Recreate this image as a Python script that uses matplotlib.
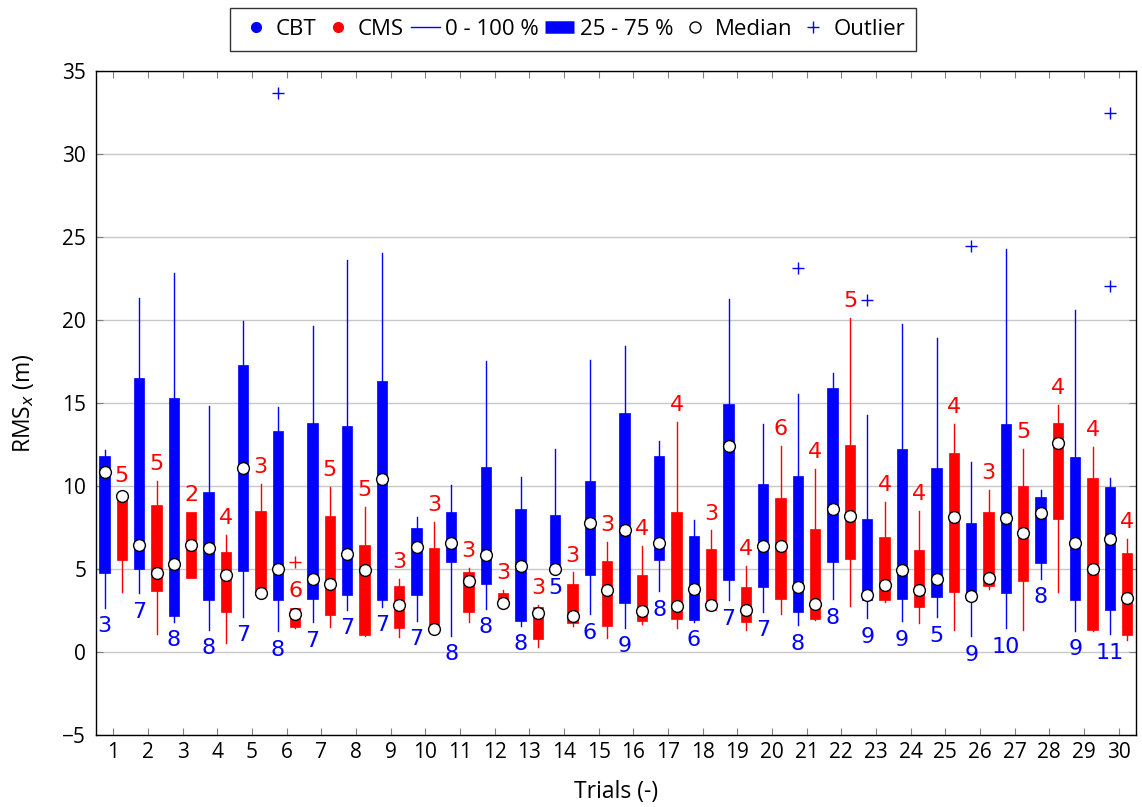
import matplotlib
matplotlib.use("Agg")
import matplotlib.pyplot as plt
from matplotlib.lines import Line2D
import numpy as np

plt.rcParams['font.family'] = ['Open Sans', 'DejaVu Sans']

trials = list(range(1, 31))

# CBT: lower whisker, q1, median, q3, upper whisker, count
cbt_lo = [2.67, 3.54, 1.82, 1.35, 2.10, 1.24, 1.78, 2.53, 2.70, 1.89,
          0.97, 2.58, 1.57, 4.94, 2.27, 1.46, 3.65, 1.82, 3.11, 2.42,
          1.61, 3.18, 2.03, 1.84, 2.08, 0.94, 1.43, 4.40, 1.26, 1.06]
cbt_q1 = [4.74, 5.00, 2.15, 3.15, 4.89, 3.15, 3.22, 3.43, 3.15, 3.45,
          5.39, 4.10, 1.89, 4.95, 4.61, 2.94, 5.54, 1.95, 4.36, 3.93,
          2.38, 5.39, 3.12, 3.19, 3.29, 3.12, 3.53, 5.36, 3.12, 2.51]
cbt_med = [10.85, 6.44, 5.32, 6.29, 11.07, 4.98, 4.40, 5.92, 10.41, 6.35,
           6.59, 5.86, 5.17, 4.97, 7.75, 7.36, 6.57, 3.82, 12.40, 6.39,
           3.93, 8.60, 3.41, 4.93, 4.37, 3.38, 8.04, 8.38, 6.55, 6.79]
cbt_q3 = [11.83, 16.50, 15.30, 9.61, 17.27, 13.33, 13.80, 13.63, 16.31, 7.47,
          8.41, 11.12, 8.63, 8.26, 10.32, 14.40, 11.80, 7.00, 14.94, 10.11,
          10.62, 15.88, 7.99, 12.25, 11.09, 7.78, 13.72, 9.35, 11.74, 9.95]
cbt_hi = [12.17, 21.30, 22.80, 14.83, 19.96, 14.74, 19.66, 23.63, 24.00, 8.15,
          10.04, 17.51, 10.52, 12.23, 17.60, 18.41, 12.73, 7.96, 21.24, 13.73,
          15.51, 16.80, 14.28, 19.78, 18.89, 11.45, 24.30, 9.76, 20.58, 10.48]
cbt_n = [3, 7, 8, 8, 7, 8, 7, 7, 7, 7, 8, 8, 8, 5, 6,
         9, 8, 6, 7, 7, 8, 8, 9, 9, 5, 9, 10, 8, 9, 11]
cbt_out = {6: [33.65], 21: [23.15], 23: [21.18], 26: [24.44], 30: [32.46, 22.05]}

# CMS
cms_lo = [3.60, 1.07, 4.44, 0.56, 3.43, 1.45, 1.52, 0.97, 0.92, 1.24,
          1.82, 2.90, 0.28, 1.57, 0.82, 1.67, 1.46, 2.53, 1.31, 2.27,
          1.95, 2.75, 3.00, 1.74, 1.35, 3.77, 1.35, 3.60, 1.26, 0.70]
cms_q1 = [5.54, 3.65, 4.44, 2.42, 3.45, 1.53, 2.25, 1.00, 1.42, 1.30,
          2.42, 2.92, 0.80, 1.74, 1.57, 1.89, 2.00, 2.53, 1.82, 3.18,
          2.00, 5.60, 3.12, 2.71, 3.60, 3.96, 4.28, 8.02, 1.30, 1.01]
cms_med = [9.40, 4.74, 6.46, 4.64, 3.55, 2.27, 4.08, 4.96, 2.81, 1.39,
           4.25, 2.95, 2.37, 2.17, 3.71, 2.49, 2.79, 2.83, 2.51, 6.39,
           2.90, 8.18, 4.01, 3.72, 8.12, 4.44, 7.17, 12.58, 5.00, 3.24]
cms_q3 = [9.55, 8.86, 8.45, 6.01, 8.48, 2.63, 8.22, 6.46, 3.99, 6.24,
          4.83, 3.53, 2.69, 4.12, 5.47, 4.61, 8.45, 6.18, 3.93, 9.29,
          7.40, 12.47, 6.91, 6.14, 12.00, 8.43, 10.00, 13.82, 10.48, 5.94]
cms_hi = [9.55, 10.32, 8.45, 7.04, 10.13, 2.63, 9.94, 8.76, 4.42, 7.85,
          5.04, 3.73, 2.83, 4.79, 6.65, 6.39, 13.86, 7.32, 5.17, 12.38,
          11.00, 20.09, 9.03, 8.50, 13.74, 9.76, 12.25, 14.90, 12.37, 6.79]
cms_n = [5, 5, 2, 4, 3, 6, 5, 5, 3, 3, 3, 3, 3, 3, 3,
         4, 4, 3, 4, 6, 4, 5, 4, 4, 4, 3, 5, 4, 4, 4]
cms_out = {6: [5.43]}


def make_stats(lo, q1, med, q3, hi, out):
    stats = []
    for i in range(len(lo)):
        stats.append(dict(whislo=lo[i], q1=q1[i], med=med[i], q3=q3[i],
                          whishi=hi[i], mean=med[i],
                          fliers=out.get(i + 1, [])))
    return stats


fig = plt.figure(figsize=(11.42, 8.07), dpi=100)
ax = fig.add_axes([0.084, 0.0892, 0.9107, 0.823])

pos_b = np.array(trials) - 0.25
pos_r = np.array(trials) + 0.25

for stats, pos, col in [(make_stats(cbt_lo, cbt_q1, cbt_med, cbt_q3, cbt_hi, cbt_out), pos_b, 'blue'),
                        (make_stats(cms_lo, cms_q1, cms_med, cms_q3, cms_hi, cms_out), pos_r, 'red')]:
    ax.bxp(stats, positions=pos, widths=0.3, patch_artist=True,
           showcaps=False, showmeans=True, meanline=False,
           boxprops=dict(facecolor=col, edgecolor=col, linewidth=0.5),
           whiskerprops=dict(color=col, linewidth=1),
           medianprops=dict(linewidth=0),
           meanprops=dict(marker='o', markerfacecolor='white',
                          markeredgecolor='black', markersize=8.5,
                          markeredgewidth=1),
           flierprops=dict(marker='+', markeredgecolor=col, markersize=8,
                           markeredgewidth=1, linestyle='none'))

for i in range(len(trials)):
    ax.annotate(str(cbt_n[i]), (pos_b[i], cbt_lo[i]), xytext=(0, -6),
                textcoords='offset points', ha='center', va='top',
                color='blue', fontsize=16, family='DejaVu Sans')
    ax.annotate(str(cms_n[i]), (pos_r[i], cms_hi[i]), xytext=(0, 5),
                textcoords='offset points', ha='center', va='bottom',
                color='red', fontsize=16, family='DejaVu Sans')

ax.set_xlim(0.5, 30.5)
ax.set_ylim(-5, 35)
ax.set_xticks(trials)
ax.set_xticklabels([str(t) for t in trials])
ax.set_yticks(range(-5, 36, 5))
ax.yaxis.grid(True, color='#c8c8c8', linewidth=1)
ax.set_axisbelow(True)
ax.tick_params(direction='in', top=True, right=True, length=5,
               color='#808080', labelsize=15, pad=5)
ax.tick_params(axis='y', pad=7)
for s in ax.spines.values():
    s.set_linewidth(1)
ax.set_xlabel("Trials (-)", fontsize=16.5, labelpad=12)
ax.set_ylabel("RMS$_x$ (m)", fontsize=16.5, labelpad=19)

handles = [
    Line2D([], [], marker='o', color='blue', linestyle='none', markersize=7),
    Line2D([], [], marker='o', color='red', linestyle='none', markersize=7),
    Line2D([], [], color='blue', linewidth=1),
    Line2D([], [], color='blue', linewidth=9, solid_capstyle='butt'),
    Line2D([], [], marker='o', markerfacecolor='white', markeredgecolor='black',
           linestyle='none', markersize=8),
    Line2D([], [], marker='+', color='blue', linestyle='none', markersize=8),
]
labels = ['CBT', 'CMS', '0 - 100 %', '25 - 75 %', 'Median', 'Outlier']
leg = fig.legend(handles, labels, loc='upper center', bbox_to_anchor=(0.502, 0.99),
                 ncol=6, frameon=True, fancybox=False, edgecolor='black',
                 fontsize=16, handlelength=1.3, handletextpad=0.25,
                 columnspacing=0.3, borderpad=0.5, borderaxespad=0)
leg.get_frame().set_linewidth(1)

fig.savefig("out.png", dpi=100)
